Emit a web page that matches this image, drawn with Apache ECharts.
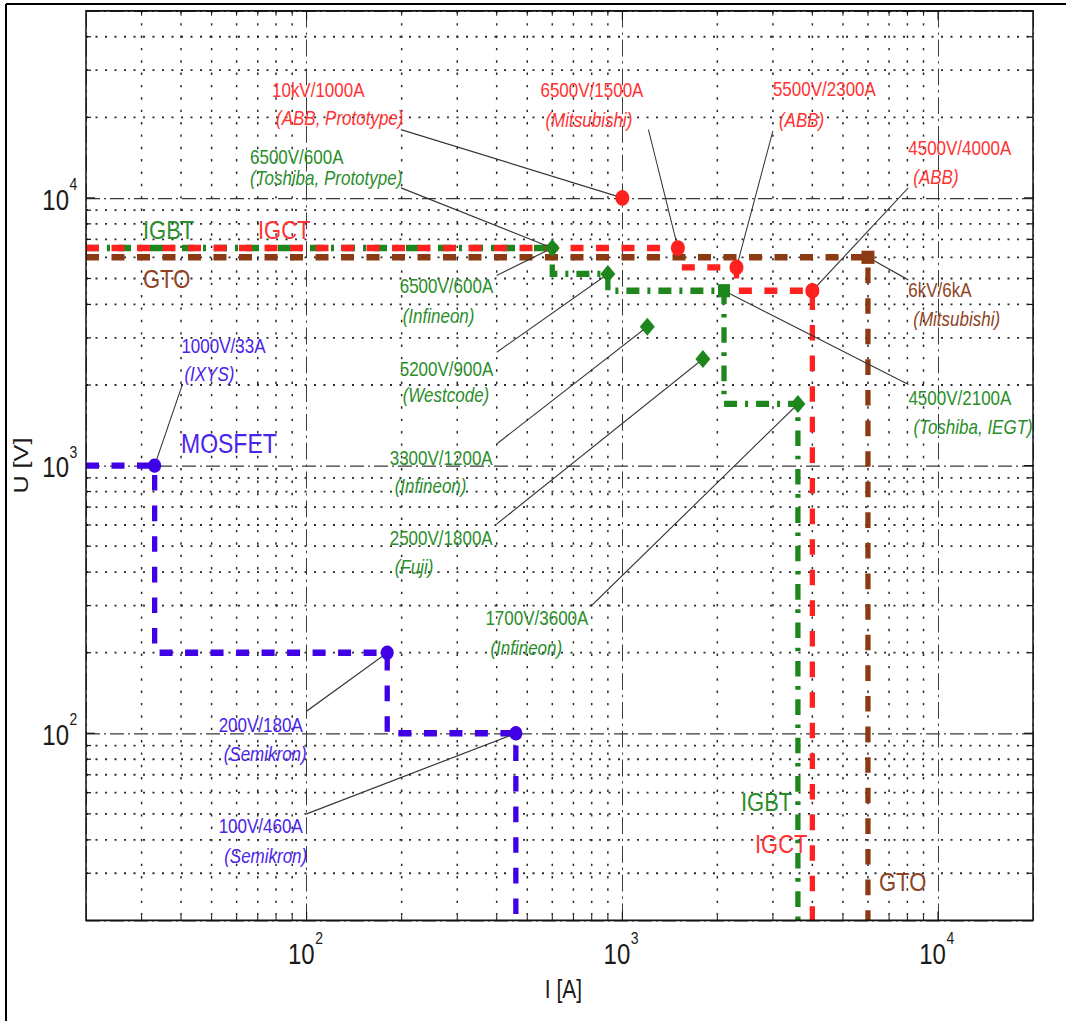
<!DOCTYPE html>
<html>
<head>
<meta charset="utf-8">
<script src="https://cdn.jsdelivr.net/npm/echarts@6/dist/echarts.min.js"></script>
<style>
  html, body { margin: 0; padding: 0; background: #fff; overflow: hidden; }
  #wrap { width: 1066px; height: 1021px; overflow: hidden; position: relative; background: #fff; }
  /* the figure is printed 1.2x taller than its width scale */
  #chart { width: 1066px; height: 851px; transform: scaleY(1.2); transform-origin: 0 0; }
</style>
</head>
<body>
<div id="wrap"><div id="chart"></div></div>
<script>
const STRETCH = 1.2;

// axis extents: current I [A], voltage U [V]
const iMin = 20, iMax = 20000;
const uMin = 20, uMax = 50000;
const decadeValues = [100, 1000, 10000];
const decadeExponents = ['2', '3', '4'];

// operating envelopes (step corners)
const mosfetEnvI = [20, 33, 180, 460, 460];
const mosfetEnvU = [1000, 1000, 200, 100, 20];
const igbtEnvI = [20, 600, 900, 2100, 3600, 3600];
const igbtEnvU = [6500, 6500, 5200, 4500, 1700, 20];
const igctEnvI = [20, 1500, 2300, 4000, 4000];
const igctEnvU = [6500, 6500, 5500, 4500, 20];
const gtoEnvI = [20, 6000, 6000];
const gtoEnvU = [6000, 6000, 20];

// individual devices
const mosfetDevI = [33, 180, 460];
const mosfetDevU = [1000, 200, 100];
const igbtDiamondI = [600, 900, 1200, 1800, 3600];
const igbtDiamondU = [6500, 5200, 3300, 2500, 1700];
const igbtSquareI = [2100];
const igbtSquareU = [4500];
const igctDevI = [1000, 1500, 2300, 4000];
const igctDevU = [10000, 6500, 5500, 4500];
const gtoDevI = [6000];
const gtoDevU = [6000];

// device notes
const noteRatings = ['10kV/1000A', '6500V/600A', '6500V/1500A', '5500V/2300A', '4500V/4000A',
  '6kV/6kA', '4500V/2100A', '6500V/600A', '5200V/900A', '3300V/1200A', '2500V/1800A',
  '1700V/3600A', '1000V/33A', '200V/180A', '100V/460A'];
const noteMakers = ['(ABB, Prototype)', '(Toshiba, Prototype)', '(Mitsubishi)', '(ABB)', '(ABB)',
  '(Mitsubishi)', '(Toshiba, IEGT)', '(Infineon)', '(Westcode)', '(Infineon)', '(Fuji)',
  '(Infineon)', '(IXYS)', '(Semikron)', '(Semikron)'];
const noteFamily = ['IGCT', 'IGBT', 'IGCT', 'IGCT', 'IGCT', 'GTO', 'IGBT', 'IGBT', 'IGBT',
  'IGBT', 'IGBT', 'IGBT', 'MOSFET', 'MOSFET', 'MOSFET'];
const noteDeviceI = [1000, 600, 1500, 2300, 4000, 6000, 2100, 600, 900, 1200, 1800, 3600, 33, 180, 460];
const noteDeviceU = [10000, 6500, 6500, 5500, 4500, 6000, 4500, 6500, 5200, 3300, 2500, 1700, 1000, 200, 100];
// where each leader line leaves its note
const noteAnchorI = [199, 199, 1210, 3000, 8050, 8050, 8060, 400, 400, 400, 400, 804, 40.4, 100, 100];
const noteAnchorU = [18000, 10900, 18000, 17800, 10900, 4940, 2010, 5130, 2650, 1205, 605, 302, 2010, 121, 50];

// family labels
const familyNames = ['IGBT', 'IGCT', 'GTO', 'MOSFET', 'IGBT', 'IGCT', 'GTO'];

// ---- layout & style ----
const lineColor = { IGBT: '#1d861d', IGCT: '#ff2020', GTO: '#8c3a14', MOSFET: '#4000e6' };
const textColor = { IGBT: '#2b8e2b', IGCT: '#ff3333', GTO: '#8e4424', MOSFET: '#4a24ea' };
const FONT = '"Liberation Sans", Arial, Helvetica, sans-serif';
// note text offsets from the leader end (screen px): [dx1, dy1, dx2, dy2]
const noteOffsets = [
  [-129, -40, -125, -12], [-151, -31, -151, -10], [-108, -40, -103, -10], [0, -42, 6, -11],
  [0, -40, 5, -11], [0, 10, 5, 39], [0, 13.5, 5, 43], [-97, 10.5, -94, 40.5],
  [-97, 17, -94, 43], [-107, 14, -102, 42], [-107, 14, -102, 43], [-107, 13.5, -102, 43],
  [-1, -38.5, 2, -10], [-88, 14, -83, 43], [-88, 12.5, -82.5, 42]
];
// family label positions (screen px: left, middle) and sizes
const familyPos = [[143, 230], [258, 230], [143, 279], [181, 443], [741, 802], [755, 844], [879, 882]];
const familySize = [22, 22, 22, 23, 22, 22, 22];

const DASH = [13, 12.5];
const DASHDOT = [13, 8, 3, 8];

function envelope(I, U, color, dash) {
  return {
    type: 'line', data: I.map((v, k) => [v, U[k]]), step: 'start', symbol: 'none',
    lineStyle: { color: color, width: 5.3, type: dash, cap: 'butt', join: 'miter' },
    silent: true, z: 2
  };
}
function devices(I, U, color, symbol, size) {
  return {
    type: 'scatter', data: I.map((v, k) => [v, U[k]]), symbol: symbol, symbolSize: size,
    itemStyle: { color: color, opacity: 1 }, silent: true, z: 2
  };
}

const series = [
  envelope(igbtEnvI, igbtEnvU, lineColor.IGBT, DASHDOT),
  devices(igbtDiamondI, igbtDiamondU, lineColor.IGBT, 'diamond', [15, 15]),
  devices(igbtSquareI, igbtSquareU, lineColor.IGBT, 'rect', [12, 11]),
  envelope(igctEnvI, igctEnvU, lineColor.IGCT, DASH),
  devices(igctDevI, igctDevU, lineColor.IGCT, 'circle', [14, 13]),
  envelope(gtoEnvI, gtoEnvU, lineColor.GTO, DASH),
  devices(gtoDevI, gtoDevU, lineColor.GTO, 'rect', [13, 11]),
  envelope(mosfetEnvI, mosfetEnvU, lineColor.MOSFET, DASH),
  devices(mosfetDevI, mosfetDevU, lineColor.MOSFET, 'circle', [13, 12])
];
noteRatings.forEach((_, k) => {
  series.push({
    type: 'line', symbol: 'none', silent: true, z: 2,
    data: [[noteAnchorI[k], noteAnchorU[k]], [noteDeviceI[k], noteDeviceU[k]]],
    lineStyle: { color: '#333', width: 1 }
  });
});

const axisBase = {
  type: 'log', logBase: 10,
  axisLine: { show: false }, axisTick: { show: false }, axisLabel: { show: false },
  splitLine: { show: true, lineStyle: { color: '#3a3a3a', width: 1, type: [14, 4, 2, 4] } }
};

const chart = echarts.init(document.getElementById('chart'), null, { renderer: 'svg' });
chart.setOption({
  animation: false,
  backgroundColor: '#fff',
  grid: { left: 86, right: 33, top: 9, bottom: 84 },
  xAxis: Object.assign({ min: iMin, max: iMax }, axisBase),
  yAxis: Object.assign({ min: uMin, max: uMax }, axisBase),
  series: series
});

// ---- minor grid, ticks, frame and text ----
const px = v => chart.convertToPixel({ xAxisIndex: 0 }, v);
const py = v => chart.convertToPixel({ yAxisIndex: 0 }, v);
const L = px(iMin), R = px(iMax), T = py(uMax), B = py(uMin);

function minorValues(lo, hi) {
  const out = [];
  for (let d = 10; d < hi; d *= 10) {
    for (let m = 2; m <= 9; m++) {
      const v = m * d;
      if (v > lo && v < hi) out.push(v);
    }
  }
  return out;
}
const minorI = minorValues(iMin, iMax);
const minorU = minorValues(uMin, uMax);

const g = [];
function seg(x1, y1, x2, y2, stroke, w, dash, z) {
  g.push({ type: 'line', silent: true, z: z,
    shape: { x1: x1, y1: y1, x2: x2, y2: y2 },
    style: { stroke: stroke, lineWidth: w, lineDash: dash || null } });
}
minorI.forEach(v => { const x = px(v); seg(x, T, x, B, '#2a2a2a', 1.5, [2, 8.3], 0); });
minorU.forEach(v => { const y = py(v); seg(L, y, R, y, '#2a2a2a', 1.5, [2, 7.5], 0); });

// inward ticks on all four sides
function xTicks(vals, len) {
  vals.forEach(v => { const x = px(v);
    seg(x, B, x, B - len / STRETCH, '#111', 1, null, 1);
    seg(x, T, x, T + len / STRETCH, '#111', 1, null, 1); });
}
function yTicks(vals, len) {
  vals.forEach(v => { const y = py(v);
    seg(L, y, L + len, y, '#111', 1, null, 1);
    seg(R, y, R - len, y, '#111', 1, null, 1); });
}
xTicks(minorI, 5); xTicks(decadeValues, 9);
yTicks(minorU, 5); yTicks(decadeValues, 9);

// plot box
g.push({ type: 'rect', silent: true, z: 50,
  shape: { x: L, y: T, width: R - L, height: B - T },
  style: { fill: 'none', stroke: '#111', lineWidth: 1.5 } });
// figure frame (top and left edges)
seg(6, 4 / STRETCH, 1066, 4 / STRETCH, '#000', 1.7, null, 50);
seg(6, 4 / STRETCH, 6, 851, '#000', 2, null, 50);

function text(str, x, y, size, color, opts) {
  opts = opts || {};
  const align = opts.align || 'left';
  g.push({ type: 'text', silent: true, z: 60, x: x, y: y, rotation: opts.rotation || 0,
    style: { text: str, fontSize: size, fontFamily: FONT, fontStyle: opts.italic ? 'italic' : 'normal',
      fill: color, align: align, verticalAlign: 'middle', textAlign: align, textVerticalAlign: 'middle' } });
}

// decade tick labels
decadeValues.forEach((v, k) => {
  const x = px(v);
  text('10', x + 8, B + 34 / STRETCH, 24, '#1a1a1a', { align: 'right' });
  text(decadeExponents[k], x + 8.5, B + 18 / STRETCH, 14, '#1a1a1a');
  const y = py(v);
  text('10', L - 17, y + 2 / STRETCH, 24, '#1a1a1a', { align: 'right' });
  text(decadeExponents[k], L - 16.5, y - 14 / STRETCH, 14, '#1a1a1a');
});

// axis titles
text('I [A]', (L + R) / 2 + 4, 989 / STRETCH, 21, '#1a1a1a', { align: 'center' });
text('U [V]', 21, (T + B) / 2, 21, '#1a1a1a', { align: 'center', rotation: Math.PI / 2 });

// family labels
familyNames.forEach((name, k) => {
  text(name, familyPos[k][0], familyPos[k][1] / STRETCH, familySize[k], textColor[name]);
});

// device notes
noteRatings.forEach((r, k) => {
  const ax = px(noteAnchorI[k]), ay = py(noteAnchorU[k]);
  const o = noteOffsets[k], c = textColor[noteFamily[k]];
  text(r, ax + o[0], ay + o[1] / STRETCH, 17, c);
  text(noteMakers[k], ax + o[2], ay + o[3] / STRETCH, 17, c, { italic: true });
});

chart.setOption({ graphic: { elements: g } });
</script>
</body>
</html>
